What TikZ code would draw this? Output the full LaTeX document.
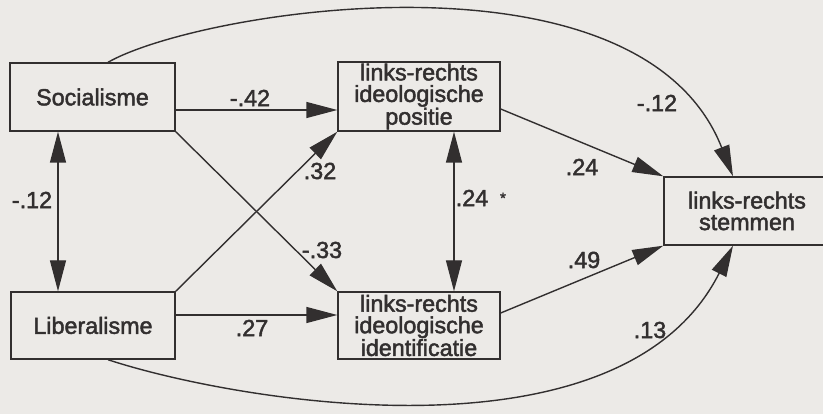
\documentclass[tikz,border=0pt]{standalone}
\usepackage{fontspec}
\newfontfamily\diagfont{Liberation Sans}[FakeBold=2]
\usetikzlibrary{arrows.meta}
\definecolor{paper}{RGB}{236,234,231}
\definecolor{ink}{RGB}{50,47,47}
\begin{document}
\begin{tikzpicture}[x=1pt,y=-1pt,
  box/.style={draw=ink, line width=1.4pt, inner sep=0pt, align=center, text=ink,
    font=\diagfont\fontsize{23.3}{21.5}\selectfont},
  lbl/.style={text=ink, inner sep=0pt, font=\diagfont\fontsize{23.3}{21.5}\selectfont},
  conn/.style={draw=ink, line width=1.4pt},
  arr/.style={conn, -{Triangle[length=31pt,width=16pt]}},
  darr/.style={conn, {Triangle[length=31pt,width=16pt]}-{Triangle[length=31pt,width=16pt]}}]
\fill[paper] (0,0) rectangle (823,414);
\useasboundingbox (0,0) rectangle (823,414);

% boxes
\node[box, minimum width=165pt, minimum height=68pt] (soc) at (92.5,97) {Socialisme};
\node[box, minimum width=164pt, minimum height=67pt] (lib) at (93,325.5) {Liberalisme};
\node[box, minimum width=162pt, minimum height=69pt] (pos) at (419,96.5) {links-rechts\\ideologische\\positie};
\node[box, minimum width=162pt, minimum height=67pt] (idf) at (419,325.5) {links-rechts\\ideologische\\identificatie};
\node[box, minimum width=166pt, minimum height=68pt] (stem) at (747,211) {links-rechts\\stemmen};

% connectors
\draw[arr] ([yshift=-13pt]soc.east) -- ([yshift=-13.5pt]pos.west);
\draw[arr] ([yshift=10.5pt]lib.east) -- ([yshift=10.5pt]idf.west);
\draw[arr] (soc.south east) -- (idf.north west);
\draw[arr] (lib.north east) -- (pos.south west);
\draw[darr] ([xshift=-34.5pt]soc.south) -- ([xshift=-35pt]lib.north);
\draw[darr] ([xshift=35pt]pos.south) -- ([xshift=35pt]idf.north);
\draw[arr] ([yshift=-12.5pt]pos.east) -- (stem.north west);
\draw[arr] ([yshift=12.5pt]idf.east) -- (stem.south west);
\draw[arr] ([xshift=15.5pt]soc.north) .. controls (200,10) and (640,-60) .. ([xshift=-14pt]stem.north);
\draw[arr] ([xshift=15pt]lib.south) .. controls (230,400) and (620,470) .. ([xshift=-14pt]stem.south);

% labels
\node[lbl] (l1) at (250,98) {-.42};
\node[lbl] (l2) at (320,171) {.32};
\node[lbl] (l3) at (322,250) {-.33};
\node[lbl] (l4) at (32,200) {-.12};
\node[lbl] (l5) at (252,328) {.27};
\node[lbl] (l6) at (472,198) {.24};
\node[lbl, font=\diagfont\fontsize{15}{15}\selectfont] (l6s) at (503,198) {*};
\node[lbl] (l7) at (582,167) {.24};
\node[lbl] (l8) at (657,103) {-.12};
\node[lbl] (l9) at (584,260) {.49};
\node[lbl] (l10) at (650,330) {.13};
\end{tikzpicture}
\end{document}
